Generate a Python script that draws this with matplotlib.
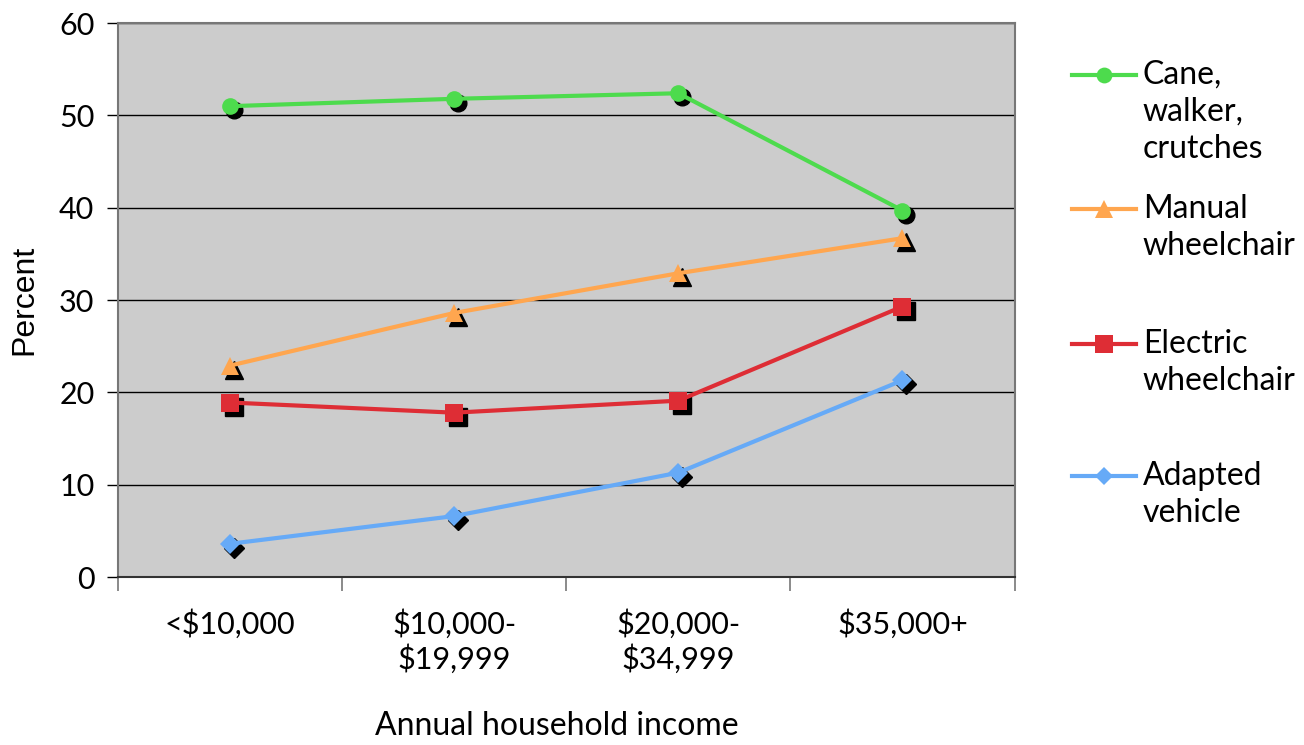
import matplotlib

matplotlib.use("Agg")
import matplotlib.pyplot as plt  # noqa: E402
from matplotlib.lines import Line2D  # noqa: E402
from matplotlib.transforms import offset_copy  # noqa: E402

FONT = ["Lato", "DejaVu Sans"]
plt.rcParams.update({"font.family": FONT})

# Share of people using each mobility aid, by household income band.
income_bands = ["<$10,000", "$10,000-\n$19,999", "$20,000-\n$34,999", "$35,000+"]
cane_walker = [51.0, 51.8, 52.4, 39.7]
manual_chair = [22.9, 28.6, 32.9, 36.7]
electric_chair = [18.9, 17.8, 19.1, 29.3]
adapted_vehicle = [3.6, 6.6, 11.3, 21.3]

series = [
    ("Cane,\nwalker,\ncrutches", cane_walker, "#4ddb4d", "o", 12),
    ("Manual\nwheelchair", manual_chair, "#ffa64f", "^", 13),
    ("Electric\nwheelchair", electric_chair, "#de2d35", "s", 13),
    ("Adapted\nvehicle", adapted_vehicle, "#66aaf7", "D", 10),
]

fig = plt.figure(figsize=(13.04, 7.45), dpi=100)
ax = fig.add_axes([0.0905, 0.2255, 0.6875, 0.7435])
ax.set_facecolor("#cccccc")

x = list(range(len(income_bands)))
shadow = offset_copy(ax.transData, fig=fig, x=4, y=-4, units="dots")

for label, vals, color, marker, ms in series:
    ax.plot(x, vals, color=color, lw=3, zorder=3, solid_capstyle="round")
    # drop shadow under each marker
    ax.plot(x, vals, ls="none", marker=marker, ms=ms, color="black",
            transform=shadow, zorder=2)
    ax.plot(x, vals, ls="none", marker=marker, ms=ms, color=color,
            markeredgewidth=0, zorder=4)

ax.set_xlim(-0.5, 3.5)
ax.set_ylim(0, 60)
ax.set_yticks(range(0, 61, 10))
ax.yaxis.grid(True, color="black", lw=1)
ax.set_axisbelow(True)
ax.tick_params(axis="y", length=8, width=1, pad=9, labelsize=22)

ax.set_xticks([-0.5, 0.5, 1.5, 2.5, 3.5])
ax.set_xticklabels([])
ax.tick_params(axis="x", which="major", length=10, width=1.2, color="#777777")
ax.set_xticks(x, minor=True)
ax.set_xticklabels(income_bands, minor=True, fontsize=22, linespacing=1.2,
                   va="top")
ax.tick_params(axis="x", which="minor", length=0, pad=23)

for side in ["left", "right", "top", "bottom"]:
    ax.spines[side].set_color("#777777")
    ax.spines[side].set_linewidth(1.5)
ax.spines["bottom"].set_color("#333333")

ax.set_ylabel("Percent", fontsize=23, family=["Liberation Sans"], labelpad=14)
fig.text(0.427, 0.006, "Annual household income", ha="center", va="bottom",
         fontsize=23)

# Legend with the marker aligned to the first text line
legend_y = [0.900, 0.720, 0.538, 0.361]
for (label, vals, color, marker, ms), ly in zip(series, legend_y):
    fig.add_artist(Line2D([0.822, 0.871], [ly, ly], color=color, lw=3,
                          transform=fig.transFigure))
    fig.add_artist(Line2D([0.8465], [ly], ls="none", marker=marker,
                          ms=ms * 0.95, color=color, markeredgewidth=0,
                          transform=fig.transFigure))
    fig.text(0.8765, ly + 0.020, label, ha="left", va="top", fontsize=23,
             linespacing=1.3)

fig.savefig("out.png", dpi=100, facecolor="white")
